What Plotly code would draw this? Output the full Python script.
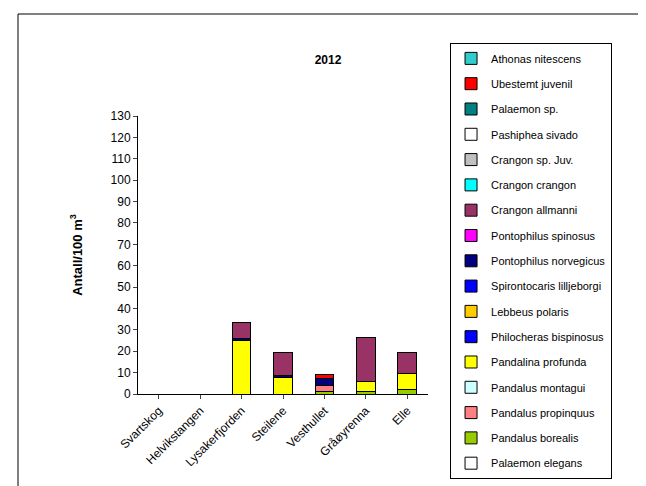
import plotly.graph_objects as go

sites = ["Svartskog", "Helvikstangen", "Lysakerfjorden", "Steilene", "Vesthullet", "Gråøyrenna", "Elle"]
# bottom -> top stacking order
species = ["Palaemon elegans", "Pandalus borealis", "Pandalus propinquus", "Pandalus montagui",
           "Pandalina profunda", "Philocheras bispinosus", "Lebbeus polaris", "Spirontocaris lilljeborgi",
           "Pontophilus norvegicus", "Pontophilus spinosus", "Crangon allmanni", "Crangon crangon",
           "Crangon sp. Juv.", "Pashiphea sivado", "Palaemon sp.", "Ubestemt juvenil", "Athonas nitescens"]
colors = ["#FFFFFF", "#99CC00", "#FF8080", "#CCFFFF", "#FFFF00", "#0000FF", "#FFCC00", "#0000FF",
          "#000080", "#FF00FF", "#993366", "#00FFFF", "#C0C0C0", "#FFFFFF", "#008080", "#FF0000", "#33CCCC"]
values = {
    "Pandalus borealis":      [0, 0, 0, 0, 1.2, 1.2, 2.0],
    "Pandalus propinquus":    [0, 0, 0, 0, 2.8, 0, 0],
    "Pandalina profunda":     [0, 0, 25.1, 7.8, 0, 4.7, 7.6],
    "Pontophilus norvegicus": [0, 0, 0.9, 0.9, 3.2, 0, 0],
    "Crangon allmanni":       [0, 0, 7.5, 10.6, 0, 20.6, 9.6],
    "Ubestemt juvenil":       [0, 0, 0, 0, 2.0, 0, 0],
}

fig = go.Figure()
n = len(species)
for i, (sp, c) in enumerate(zip(species, colors)):
    fig.add_trace(go.Bar(x=sites, y=values.get(sp, [0]*len(sites)), name=sp, legendgroup=sp,
                         legendrank=n - i,
                         marker=dict(color=c, line=dict(color="black", width=1))))

fig.update_layout(
    barmode="stack", bargap=0.55, width=646, height=486,
    margin=dict(l=130, r=226, t=108, b=100),
    paper_bgcolor="white", plot_bgcolor="white",
    font=dict(family="Liberation Sans, Arial", size=12, color="black"),
    title=dict(text="<b>2012</b>", x=(320)/646, xanchor="center", y=1-52/486, yanchor="middle",
               font=dict(size=12)),
    legend=dict(traceorder="grouped", x=1.076, xanchor="left", y=1.263, yanchor="top",
                bordercolor="black", borderwidth=1, tracegroupgap=6.3, maxheight=1.0,
                font=dict(size=11), itemwidth=30, entrywidth=140),
    showlegend=True,
    yaxis=dict(range=[0, 130], dtick=10, showgrid=False, showline=True, linecolor="black",
               ticks="outside", ticklen=4, zeroline=False,
               title=dict(text="<b>Antall/100 m<sup>3</sup></b>", font=dict(size=13), standoff=25)),
    xaxis=dict(showline=True, linecolor="black", ticks="outside", ticklen=4, tickangle=-45,
               showgrid=False),
    shapes=[dict(type="rect", xref="paper", yref="paper", x0=-120/290, x1=(638-130)/290,
                 y0=-(480-386)/278, y1=(386-6)/278, line=dict(color="black", width=1))],
)
fig.write_html("out.html")
